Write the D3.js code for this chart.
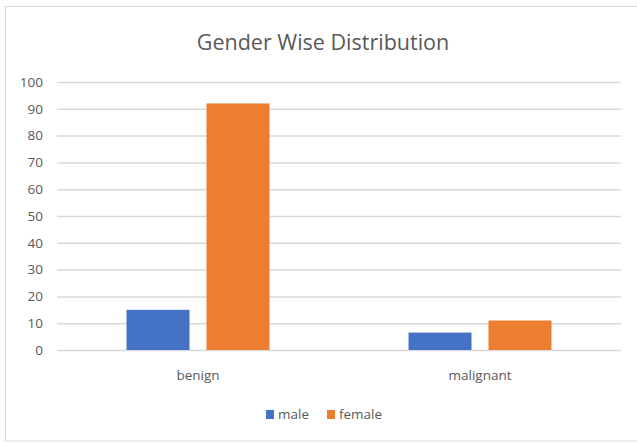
<!DOCTYPE html>
<html><head><meta charset="utf-8">
<script src="https://cdn.jsdelivr.net/npm/d3@7"></script>
<style>body{margin:0;background:#fff;} text{font-family:"Open Sans","Liberation Sans",sans-serif;}</style>
</head><body>
<script>
const categories = ["benign", "malignant"];
const seriesNames = ["male", "female"];
const maleValues = [15, 6.5];
const femaleValues = [92, 11];
const yTicks = [0,10,20,30,40,50,60,70,80,90,100];
const colors = ["#4472C4", "#ED7D31"];
const chartTitle = "Gender Wise Distribution";

(function(){
const W = 637, H = 443;
const svg = d3.select("body").append("svg").attr("width", W).attr("height", H);
svg.append("rect").attr("x",5.5).attr("y",6.5).attr("width",640).attr("height",434.5)
  .attr("fill","#fff").attr("stroke","#d9d9d9").attr("stroke-width",1);

const pL = 57, pR = 621, pT = 82, pB = 350;
const y = d3.scaleLinear().domain([0,100]).range([pB, pT]);
const x0 = d3.scaleBand().domain(categories).range([pL, pR]).padding(0);
const x1 = d3.scaleBand().domain(seriesNames)
  .range([x0.bandwidth()*0.2465, x0.bandwidth()*0.7535]).paddingInner(0.2125).paddingOuter(0);

const yAxis = d3.axisLeft(y).tickValues(yTicks).tickSize(-(pR-pL)).tickPadding(14);
const gy = svg.append("g").attr("transform",`translate(${pL},0)`).call(yAxis);
gy.select(".domain").remove();
gy.selectAll(".tick line").attr("stroke","#d9d9d9").attr("stroke-width",1.5);
gy.selectAll(".tick text").attr("fill","#595959").style("font-size","13.5px").attr("x",-14);

const data = categories.map((c,i)=>({cat:c, vals:[maleValues[i], femaleValues[i]]}));
const groups = svg.append("g").selectAll("g").data(data).join("g")
  .attr("transform", d=>`translate(${x0(d.cat)},0)`);
groups.selectAll("rect").data(d=>d.vals.map((v,j)=>({name:seriesNames[j], v, j})))
  .join("rect")
  .attr("x", d=>x1(d.name)).attr("width", x1.bandwidth())
  .attr("y", d=>y(d.v)).attr("height", d=>pB - y(d.v))
  .attr("fill", d=>colors[d.j]);

const xAxis = d3.axisBottom(x0).tickSize(0).tickPadding(20);
const gx = svg.append("g").attr("transform",`translate(0,${pB})`).call(xAxis);
gx.select(".domain").remove();
gx.selectAll(".tick text").attr("fill","#595959").style("font-size","13.5px");

svg.append("text").attr("x", 323).attr("y", 50).attr("text-anchor","middle")
  .attr("fill","#595959").style("font-size","21.5px").text(chartTitle);

const legend = svg.append("g");
const legX = [266, 327];
seriesNames.forEach((n,i)=>{
  legend.append("rect").attr("x",legX[i]).attr("y",410).attr("width",8).attr("height",9).attr("fill",colors[i]);
  legend.append("text").attr("x",legX[i]+12).attr("y",419).attr("fill","#595959").style("font-size","13.5px").text(n);
});
})();
</script>
</body></html>
